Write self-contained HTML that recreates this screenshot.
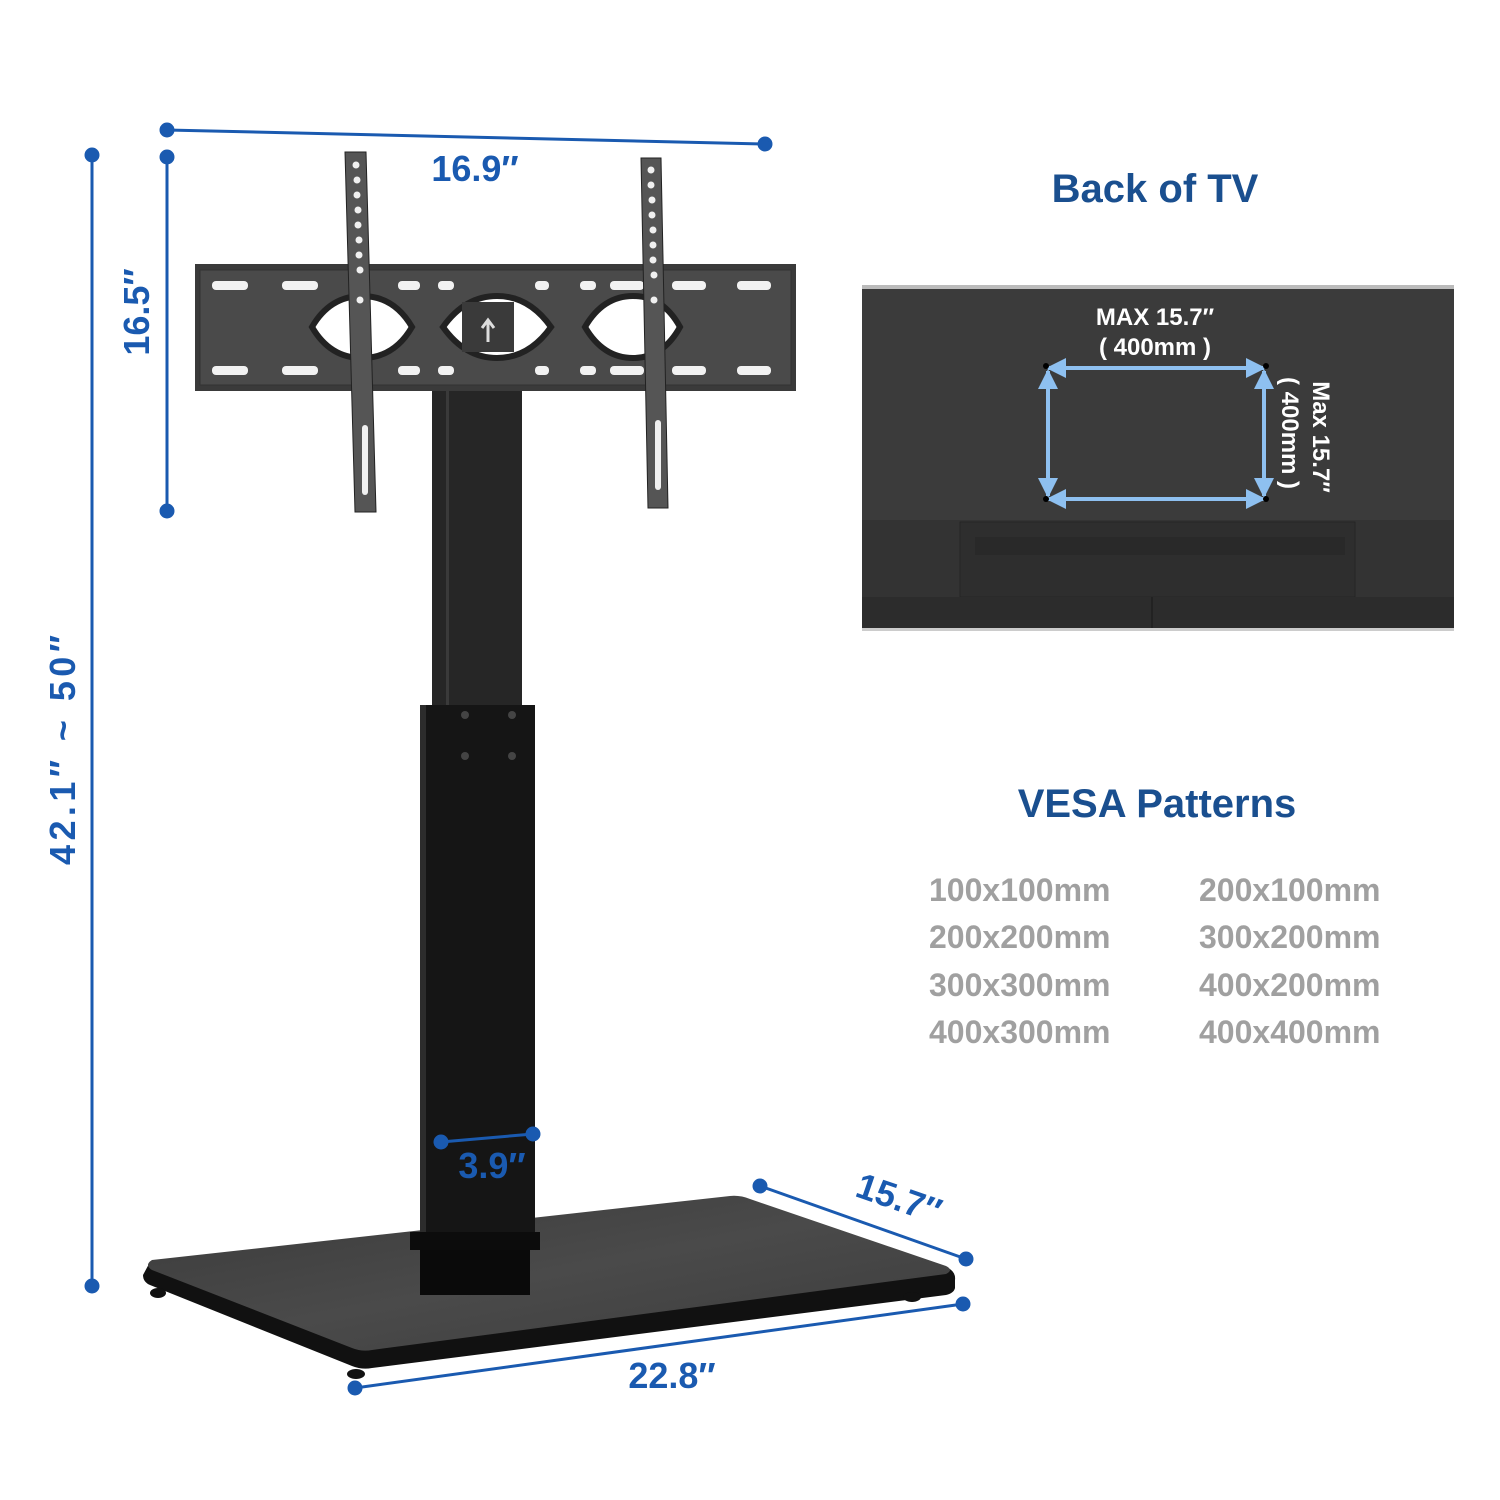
<!DOCTYPE html>
<html><head><meta charset="utf-8"><style>
html,body{margin:0;padding:0;background:#fff}
svg{display:block}
text{font-family:"Liberation Sans","DejaVu Sans",sans-serif;font-weight:bold}
</style></head><body>
<svg width="1500" height="1500" viewBox="0 0 1500 1500" xmlns="http://www.w3.org/2000/svg">
<defs>
<marker id="ah" viewBox="0 0 10 10" refX="9" refY="5" markerWidth="5" markerHeight="5" orient="auto-start-reverse"><path d="M0,0 L10,5 L0,10 z" fill="#8ec0f0"/></marker>
<linearGradient id="base" x1="0" y1="0" x2="1" y2="1"><stop offset="0" stop-color="#3a3a3a"/><stop offset="0.5" stop-color="#4a4a4a"/><stop offset="1" stop-color="#3c3c3c"/></linearGradient>
</defs>
<!-- base -->
<path d="M150,1262 L730,1197 Q740,1196 750,1200 L948,1268 Q956,1272 955,1280 L955,1288 Q954,1293 946,1295 L372,1368 Q362,1370 352,1366 L150,1285 Q143,1282 143,1275 Z" fill="#111"/>
<path d="M152,1260 L730,1196 Q740,1195 750,1199 L946,1266 Q954,1270 946,1274 L372,1350 Q362,1352 352,1348 L152,1270 Q144,1265 152,1260 Z" fill="url(#base)"/>
<ellipse cx="158" cy="1293" rx="8" ry="5" fill="#111"/>
<ellipse cx="356" cy="1374" rx="9" ry="5" fill="#111"/>
<ellipse cx="912" cy="1297" rx="9" ry="5" fill="#111"/>
<!-- pole -->
<rect x="432" y="388" width="90" height="320" fill="#262626"/>
<rect x="446" y="388" width="3" height="320" fill="#3a3a3a"/>
<rect x="420" y="705" width="115" height="530" fill="#151515"/>
<rect x="420" y="705" width="6" height="530" fill="#2c2c2c"/>
<circle cx="465" cy="715" r="4" fill="#444"/><circle cx="512" cy="715" r="4" fill="#444"/>
<circle cx="465" cy="756" r="4" fill="#444"/><circle cx="512" cy="756" r="4" fill="#444"/>
<rect x="410" y="1232" width="130" height="18" fill="#0c0c0c"/>
<rect x="420" y="1250" width="110" height="45" fill="#0a0a0a"/>
<!-- mount plate -->
<rect x="195" y="264" width="601" height="127" fill="#3a3a3a"/>
<rect x="200" y="270" width="591" height="115" fill="#4a4a4a" stroke="#333"/>
<g fill="#f2f2f2">
<rect x="212" y="281" width="36" height="9" rx="4"/><rect x="282" y="281" width="36" height="9" rx="4"/><rect x="398" y="281" width="22" height="9" rx="4"/><rect x="438" y="281" width="16" height="9" rx="4"/><rect x="535" y="281" width="14" height="9" rx="4"/><rect x="580" y="281" width="16" height="9" rx="4"/><rect x="610" y="281" width="34" height="9" rx="4"/><rect x="672" y="281" width="34" height="9" rx="4"/><rect x="737" y="281" width="34" height="9" rx="4"/>
<rect x="212" y="366" width="36" height="9" rx="4"/><rect x="282" y="366" width="36" height="9" rx="4"/><rect x="398" y="366" width="22" height="9" rx="4"/><rect x="438" y="366" width="16" height="9" rx="4"/><rect x="535" y="366" width="14" height="9" rx="4"/><rect x="580" y="366" width="16" height="9" rx="4"/><rect x="610" y="366" width="34" height="9" rx="4"/><rect x="672" y="366" width="34" height="9" rx="4"/><rect x="737" y="366" width="34" height="9" rx="4"/>
</g>
<g stroke="#222" stroke-width="6">
<path d="M312,327 Q330,296 362,296 Q394,296 412,327 Q394,358 362,358 Q330,358 312,327 Z" fill="#fff"/>
<path d="M443,327 Q465,296 497,296 Q529,296 551,327 Q529,358 497,358 Q465,358 443,327 Z" fill="#fff"/>
<path d="M585,327 Q603,296 633,296 Q663,296 680,327 Q663,358 633,358 Q603,358 585,327 Z" fill="#fff"/>
</g>
<rect x="462" y="302" width="52" height="50" fill="#3a3a3a"/>
<path d="M488,342 L488,322 M482,328 L488,320 L494,328" stroke="#ddd" stroke-width="3" fill="none"/>
<!-- vertical bars -->
<polygon points="345,152 366,152 376,512 355,512" fill="#555" stroke="#222"/>
<polygon points="641,158 661,158 668,508 648,508" fill="#555" stroke="#222"/>
<g fill="#f0f0f0">
<circle cx="356" cy="165" r="3.5"/><circle cx="357" cy="180" r="3.5"/><circle cx="357" cy="195" r="3.5"/><circle cx="358" cy="210" r="3.5"/><circle cx="358" cy="225" r="3.5"/><circle cx="359" cy="240" r="3.5"/><circle cx="359" cy="255" r="3.5"/><circle cx="360" cy="270" r="3.5"/><circle cx="360" cy="300" r="3.5"/>
<circle cx="651" cy="170" r="3.5"/><circle cx="651" cy="185" r="3.5"/><circle cx="652" cy="200" r="3.5"/><circle cx="652" cy="215" r="3.5"/><circle cx="653" cy="230" r="3.5"/><circle cx="653" cy="245" r="3.5"/><circle cx="653" cy="260" r="3.5"/><circle cx="654" cy="275" r="3.5"/><circle cx="654" cy="300" r="3.5"/>
<rect x="362" y="425" width="6" height="70" rx="3"/><rect x="655" y="420" width="6" height="70" rx="3"/>
</g>
<!-- dimension lines -->
<g stroke="#1a5ab0" stroke-width="3" fill="#1a5ab0">
<line x1="167" y1="130" x2="765" y2="144"/><circle cx="167" cy="130" r="6"/><circle cx="765" cy="144" r="6"/>
<line x1="167" y1="157" x2="167" y2="511"/><circle cx="167" cy="157" r="6"/><circle cx="167" cy="511" r="6"/>
<line x1="92" y1="155" x2="92" y2="1286"/><circle cx="92" cy="155" r="6"/><circle cx="92" cy="1286" r="6"/>
<line x1="441" y1="1142" x2="533" y2="1134"/><circle cx="441" cy="1142" r="6"/><circle cx="533" cy="1134" r="6"/>
<line x1="760" y1="1186" x2="966" y2="1259"/><circle cx="760" cy="1186" r="6"/><circle cx="966" cy="1259" r="6"/>
<line x1="355" y1="1388" x2="963" y2="1304"/><circle cx="355" cy="1388" r="6"/><circle cx="963" cy="1304" r="6"/>
</g>
<g fill="#1a5ab0" font-size="36">
<text x="475" y="181" text-anchor="middle">16.9″</text>
<text transform="translate(149,312) rotate(-90)" text-anchor="middle">16.5″</text>
<text transform="translate(75,865) rotate(-90)" textLength="230" lengthAdjust="spacing">42.1″   ~ 50″</text>
<text x="492" y="1178" text-anchor="middle">3.9″</text>
<text transform="translate(895,1210) rotate(19)" text-anchor="middle">15.7″</text>
<text x="672" y="1388" text-anchor="middle">22.8″</text>
</g>
<!-- Back of TV -->
<text x="1155" y="202" text-anchor="middle" font-size="40" fill="#1a4f8f">Back of TV</text>
<rect x="862" y="285" width="592" height="346" fill="#3b3b3b"/>
<rect x="862" y="285" width="592" height="4" fill="#bbb"/>
<rect x="862" y="520" width="592" height="110" fill="#333"/>
<rect x="960" y="522" width="395" height="75" fill="#2e2e2e" stroke="#252525"/>
<rect x="975" y="537" width="370" height="18" fill="#292929"/>
<rect x="862" y="597" width="592" height="33" fill="#2c2c2c"/>
<line x1="1152" y1="597" x2="1152" y2="630" stroke="#222" stroke-width="2"/>
<rect x="862" y="628" width="592" height="3" fill="#ccc"/>
<g stroke="#8ec0f0" stroke-width="4" fill="none">
<line x1="1048" y1="368" x2="1264" y2="368" marker-start="url(#ah)" marker-end="url(#ah)"/>
<line x1="1048" y1="499" x2="1264" y2="499" marker-start="url(#ah)" marker-end="url(#ah)"/>
<line x1="1048" y1="371" x2="1048" y2="496" marker-start="url(#ah)" marker-end="url(#ah)"/>
<line x1="1264" y1="371" x2="1264" y2="496" marker-start="url(#ah)" marker-end="url(#ah)"/>
</g>
<g fill="#000"><circle cx="1046" cy="366" r="3"/><circle cx="1266" cy="366" r="3"/><circle cx="1046" cy="499" r="3"/><circle cx="1266" cy="499" r="3"/></g>
<g fill="#fff" font-size="24">
<text x="1155" y="325" text-anchor="middle">MAX  15.7″</text>
<text x="1155" y="355" text-anchor="middle">( 400mm )</text>
<text transform="translate(1313,437) rotate(90)" text-anchor="middle">Max  15.7″</text>
<text transform="translate(1282,433) rotate(90)" text-anchor="middle">( 400mm )</text>
</g>
<!-- VESA -->
<text x="1157" y="817" text-anchor="middle" font-size="40" fill="#1a4f8f">VESA  Patterns</text>
<g fill="#a0a0a0" font-size="32">
<text x="929" y="901">100x100mm</text><text x="1199" y="901">200x100mm</text>
<text x="929" y="948">200x200mm</text><text x="1199" y="948">300x200mm</text>
<text x="929" y="996">300x300mm</text><text x="1199" y="996">400x200mm</text>
<text x="929" y="1043">400x300mm</text><text x="1199" y="1043">400x400mm</text>
</g>
</svg>
</body></html>
